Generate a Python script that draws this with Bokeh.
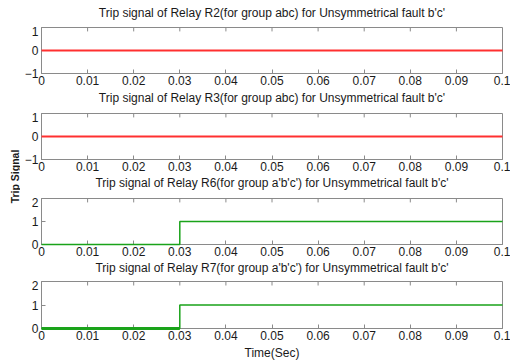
import math
from bokeh.plotting import figure
from bokeh.layouts import column, row
from bokeh.models import FixedTicker, Range1d
from bokeh.core.properties import value
from bokeh.embed import file_html
from bokeh.resources import INLINE

# time axis and relay trip signals
time_full = [0.0, 0.1]
trip_r2 = [0, 0]
trip_r3 = [0, 0]
time_step = [0.0, 0.03, 0.03, 0.1]
trip_r6 = [0, 0, 1, 1]
trip_r7 = [0, 0, 1, 1]

x_ticks = [0, 0.01, 0.02, 0.03, 0.04, 0.05, 0.06, 0.07, 0.08, 0.09, 0.1]
x_tick_labels = ["0", "0.01", "0.02", "0.03", "0.04", "0.05", "0.06", "0.07", "0.08", "0.09", "0.1"]

titles = [
    "Trip signal of Relay R2(for group abc) for Unsymmetrical fault b'c'",
    "Trip signal of Relay R3(for group abc) for Unsymmetrical fault b'c'",
    "Trip signal of Relay R6(for group a'b'c') for Unsymmetrical fault b'c'",
    "Trip signal of Relay R7(for group a'b'c') for Unsymmetrical fault b'c'",
]

FONT = "Liberation Sans"
GRAY = "#8a8a8a"
RED = "#ff3030"
GREEN = "#1aa31a"
TXT = "#1a1a1a"


def heading(text, height, centre_from_top):
    """Thin strip holding a panel heading, centred over the panel frame."""
    h = figure(width=490, height=height, output_backend="svg", toolbar_location=None,
               x_range=Range1d(0, 0.1), y_range=Range1d(0, height),
               min_border_left=21, min_border_right=8, min_border_top=0, min_border_bottom=0)
    h.title = None
    h.axis.visible = False
    h.grid.visible = False
    h.outline_line_color = None
    h.text(x=[0.05], y=[height - centre_from_top], text=[text],
           text_align="center", text_baseline="middle",
           text_font=value(FONT), text_font_size="12px", text_color=TXT)
    return h


def panel(y_lo, y_hi, height, bottom, xlabel=None):
    p = figure(width=490, height=height, output_backend="svg", toolbar_location=None,
               x_range=Range1d(0, 0.1), y_range=Range1d(y_lo, y_hi),
               min_border_left=21, min_border_right=8,
               min_border_top=1, min_border_bottom=bottom)
    p.title = None
    p.xgrid.visible = False
    p.ygrid.visible = False
    p.outline_line_color = GRAY
    p.background_fill_color = "white"
    p.border_fill_color = "white"
    for ax in (p.xaxis[0], p.yaxis[0]):
        ax.axis_line_color = GRAY
        ax.major_tick_line_color = GRAY
        ax.major_tick_in = 4
        ax.major_tick_out = 0
        ax.minor_tick_line_color = None
        ax.major_label_text_font = FONT
        ax.major_label_text_font_size = "12px"
        ax.major_label_text_color = TXT
    p.xaxis[0].ticker = FixedTicker(ticks=x_ticks)
    p.xaxis[0].major_label_overrides = {t: s for t, s in zip(x_ticks, x_tick_labels)}
    p.xaxis[0].major_label_standoff = 2
    p.yaxis[0].ticker = FixedTicker(ticks=list(range(y_lo, y_hi + 1)))
    p.yaxis[0].major_label_standoff = 3
    if xlabel:
        p.xaxis[0].axis_label = xlabel
        p.xaxis[0].axis_label_text_font = FONT
        p.xaxis[0].axis_label_text_font_size = "12px"
        p.xaxis[0].axis_label_text_font_style = "normal"
        p.xaxis[0].axis_label_text_color = TXT
        p.xaxis[0].axis_label_standoff = 3
    # short tick marks hanging from the top edge at each x tick
    tick_len = (y_hi - y_lo) * 0.085
    p.segment(x0=x_ticks, x1=x_ticks, y0=[y_hi] * len(x_ticks),
              y1=[y_hi - tick_len] * len(x_ticks), line_color=GRAY, line_width=1)
    return p


t1 = heading(titles[0], 26, 12)
p1 = panel(-1, 1, 63, 16)
p1.line(time_full, trip_r2, line_color=RED, line_width=2, level="overlay")

t2 = heading(titles[1], 23, 8)
p2 = panel(-1, 1, 63, 16)
p2.line(time_full, trip_r3, line_color=RED, line_width=2, level="overlay")

t3 = heading(titles[2], 22, 7)
p3 = panel(0, 2, 63, 16)
p3.line(time_step, trip_r6, line_color=GREEN, line_width=1.5, level="overlay")

t4 = heading(titles[3], 20, 7)
p4 = panel(0, 2, 84, 36, xlabel="Time(Sec)")
p4.line(time_step, trip_r7, line_color=GREEN, line_width=1.5, level="overlay")
p4.line(time_step[:2], trip_r7[:2], line_color=GREEN, line_width=3, level="overlay")

# shared vertical axis title
lab = figure(width=20, height=364, output_backend="svg", toolbar_location=None,
             x_range=Range1d(0, 20), y_range=Range1d(0, 364),
             min_border=0)
lab.title = None
lab.axis.visible = False
lab.grid.visible = False
lab.outline_line_color = None
lab.text(x=[14], y=[188], text=["Trip Signal"], angle=math.pi / 2,
         text_align="center", text_baseline="middle",
         text_font=value(FONT), text_font_size="10.5px", text_font_style="bold",
         text_color=TXT)

layout = row(lab, column(t1, p1, t2, p2, t3, p3, t4, p4))

open("out.html", "w").write(file_html(layout, INLINE))
